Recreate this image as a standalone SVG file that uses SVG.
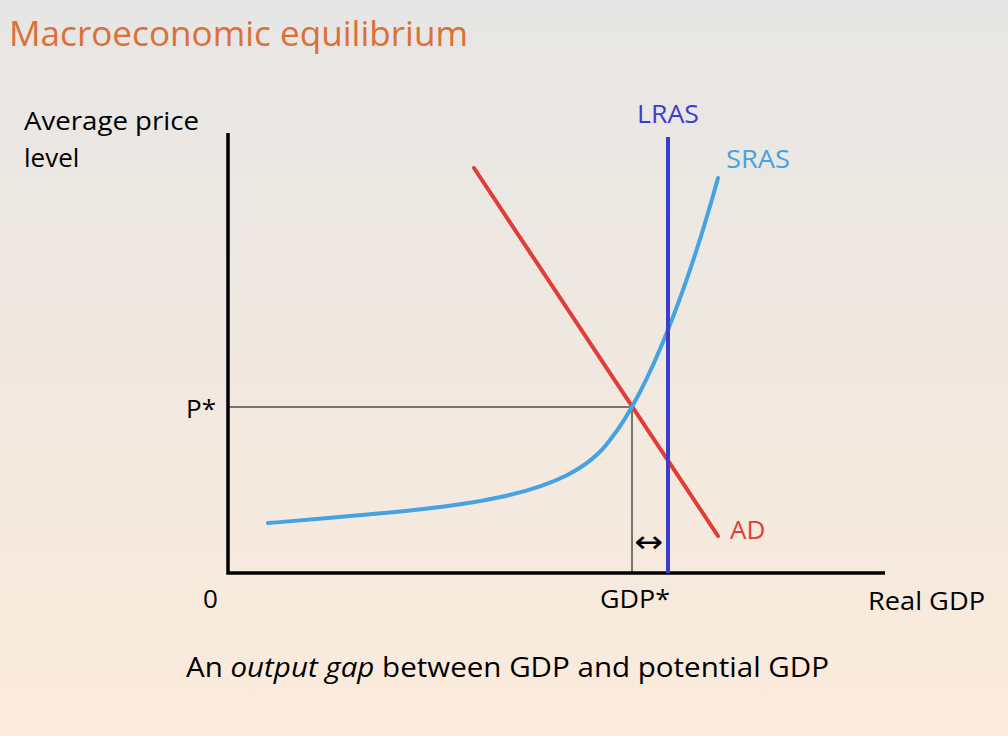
<svg xmlns="http://www.w3.org/2000/svg" width="1008" height="736" viewBox="0 0 1008 736">
<defs>
<linearGradient id="bg" x1="0" y1="0" x2="0" y2="1">
<stop offset="0" stop-color="#e6e6e6"/>
<stop offset="1" stop-color="#fbebdb"/>
</linearGradient>
<style>
text{font-family:"Open Sans","Liberation Sans",sans-serif;}
.lbl{font-size:26px;fill:#000;}
.axis{stroke:#000;stroke-width:3.5;fill:none;}
.thin{stroke:#000;stroke-width:1;fill:none;}
</style>
</defs>
<rect width="1008" height="736" fill="url(#bg)"/>
<text x="9" y="46" font-size="35" fill="#dc7035" textLength="459" lengthAdjust="spacingAndGlyphs">Macroeconomic equilibrium</text>
<g id="axes">
<path class="axis" d="M228,133 V573 H885"/>
<text class="lbl" x="24" y="130" textLength="175" lengthAdjust="spacingAndGlyphs">Average price</text>
<text class="lbl" x="24" y="167">level</text>
<text class="lbl" x="203" y="608">0</text>
<text class="lbl" x="868" y="610" textLength="117" lengthAdjust="spacingAndGlyphs">Real GDP</text>
</g>
<g id="equilibrium">
<path class="thin" d="M228,407 H632 V573"/>
<text class="lbl" x="186" y="418">P*</text>
<text class="lbl" x="600" y="608" textLength="70" lengthAdjust="spacingAndGlyphs">GDP*</text>
</g>
<g id="connectors">
<path id="AD" d="M474,168 L718,536" stroke="#e23c37" stroke-width="4" fill="none" stroke-linecap="round"/>
<path id="SRAS" d="M268,523 C450,508 565,502 610,440 C650,390 690,280 718,178" stroke="#45a2e3" stroke-width="4" fill="none" stroke-linecap="round"/>
<path id="LRAS" d="M668,137 V573" stroke="#3d3dcc" stroke-width="4" fill="none"/>
</g>
<g id="labels">
<text x="637" y="123" font-size="26" fill="#3d3dcc" textLength="62" lengthAdjust="spacingAndGlyphs">LRAS</text>
<text x="726" y="168" font-size="26" fill="#45a2e3" textLength="64" lengthAdjust="spacingAndGlyphs">SRAS</text>
<text x="730" y="539" font-size="26" fill="#e23c37">AD</text>
<text x="634" y="552" font-size="30" fill="#000" style="font-family:'DejaVu Sans',sans-serif" textLength="29" lengthAdjust="spacingAndGlyphs">↔</text>
</g>
<text x="186" y="677" font-size="27" fill="#000" textLength="643" lengthAdjust="spacingAndGlyphs">An <tspan font-style="italic">output gap</tspan> between GDP and potential GDP</text>
</svg>
